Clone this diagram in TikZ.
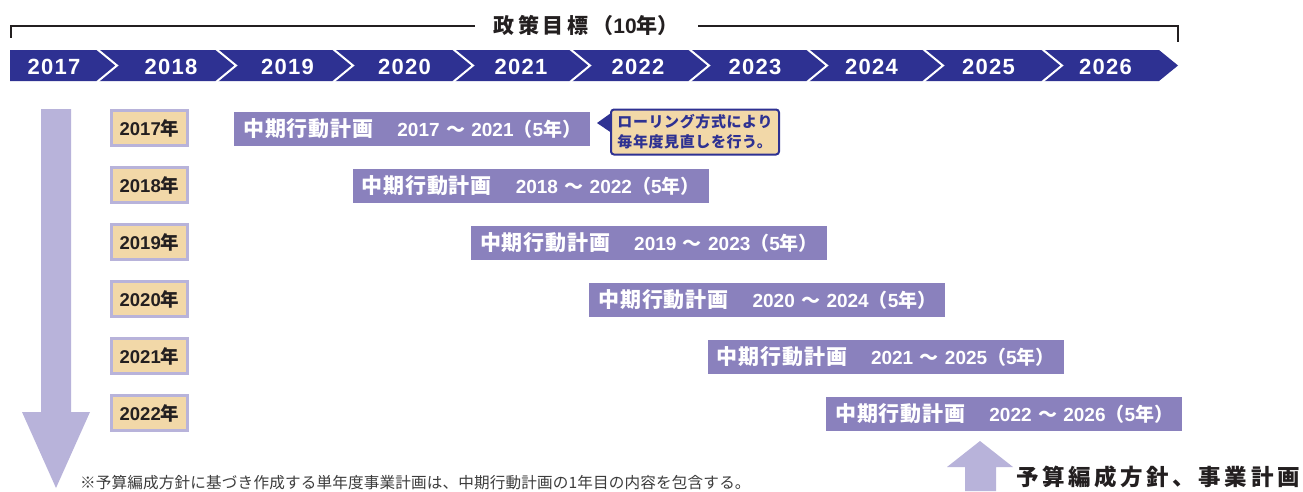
\documentclass[tikz,border=0pt]{standalone}
\usepackage{fontspec}
\setmainfont{Liberation Sans}
\newfontfamily\jp{Noto Sans CJK JP}
\newfontfamily\jpsp{Noto Sans CJK JP}[LetterSpace=16]
\newfontfamily\jpbar{Noto Sans CJK JP}[LetterSpace=4]
\newfontfamily\jpsm{Noto Sans CJK JP}[LetterSpace=4]
\newfontfamily\jptitle{Noto Sans CJK JP}[LetterSpace=18]
\newfontfamily\jpnote{Noto Sans CJK JP}[LetterSpace=1]
\newfontfamily\bandfont{Liberation Sans}[LetterSpace=6]
\definecolor{bandblue}{RGB}{46,49,146}
\definecolor{barpurple}{RGB}{138,129,189}
\definecolor{lav}{RGB}{184,179,218}
\definecolor{wheat}{RGB}{242,216,168}
\definecolor{ink}{RGB}{35,31,32}
\definecolor{notegray}{RGB}{60,60,60}
\tikzset{
  bandlabel/.style={text=white, inner sep=0pt, font=\bandfont\bfseries\fontsize{22}{22}\selectfont},
  titlestyle/.style={text=ink, inner sep=0pt, font=\bfseries\fontsize{21}{21}\selectfont},
  bracket/.style={draw=ink, line width=2pt},
  yearbox/.style={fill=wheat, draw=lav, line width=3pt, minimum width=76pt, minimum height=35pt, inner sep=0pt, text=ink, font=\bfseries\fontsize{18.5}{18.5}\selectfont},
  planbar/.style={fill=barpurple, anchor=west, minimum height=34pt, text width=338pt, inner xsep=9pt, inner ysep=0pt, align=left, text=white, font=\bfseries\fontsize{19}{19}\selectfont},
  calloutbox/.style={fill=wheat, draw=bandblue, line width=2pt, rounded corners=3pt, minimum width=168pt, minimum height=45pt, inner xsep=5pt, align=left, text=bandblue, font=\jpsm\bfseries\fontsize{15}{20}\selectfont},
  bigarrow/.style={fill=lav},
  notetext/.style={anchor=west, inner sep=0pt, text=notegray, font=\jpnote\fontsize{15.6}{15.6}\selectfont},
  budgetlabel/.style={anchor=west, inner sep=0pt, text=ink, font=\jpsp\bfseries\fontsize{22.5}{22.5}\selectfont}
}
\begin{document}
\begin{tikzpicture}[x=1pt,y=-1pt]
\useasboundingbox (0,0) rectangle (1303,491);
% bracket and title
\node[titlestyle] (title) at (586,26) {{\jptitle 政策目標（}10{\jptitle 年}{\jp ）}};
\draw[bracket] (10.5,37.5) -- (10.5,26) -- (475,26);
\draw[bracket] (698,26) -- (1177.5,26) -- (1177.5,41.5);
% timeline band
\fill[bandblue] (10,50) -- (1159,50) -- (1178,65.5) -- (1159,81) -- (10,81) -- cycle;
\foreach \b in {97,216,333,453,570,689,807,923,1042}
  \draw[white, line width=2pt] (\b,49) -- (\b+20,65.5) -- (\b,82);
\foreach \yr/\x in {2017/54,2018/171,2019/287.5,2020/404.5,2021/521,2022/638,2023/755,2024/871.5,2025/988.5,2026/1105.5}
  \node[bandlabel] (band\yr) at (\x,66.5) {\yr};
% big left arrow
\fill[bigarrow] (41,109) -- (71,109) -- (71,412) -- (90,412) -- (56,488) -- (22,412) -- (41,412) -- cycle;
% year boxes and plan bars
\foreach \i/\yr/\yb in {0/2017/2021,1/2018/2022,2/2019/2023,3/2020/2024,4/2021/2025,5/2022/2026}{
  \node[yearbox] (yb\yr) at (149.5,128+57*\i) {\yr{\jp 年}};
  \node[planbar] (bar\yr) at (234+118.4*\i,128.5+57*\i)
    {{\jpbar\fontsize{21}{21}\selectfont 中期行動計画}\hspace{24pt}\yr\ {\jp ～}\ \yb{\jp （}5{\jp 年）}};
}
% callout
\node[calloutbox] (callout) at (695,132) {ローリング方式により\\毎年度見直しを行う。};
\fill[bandblue] (611,113) -- (597,123) -- (611,132.5) -- cycle;
% bottom right arrow and label
\fill[bigarrow] (965,491) -- (965,467) -- (947,467) -- (980,441) -- (1013,467) -- (996,467) -- (996,491) -- cycle;
\node[budgetlabel] (budget) at (1016,477) {予算編成方針、事業計画};
% note
\node[notetext] (note) at (80,483) {※予算編成方針に基づき作成する単年度事業計画は、中期行動計画の1年目の内容を包含する。};
\end{tikzpicture}
\end{document}
